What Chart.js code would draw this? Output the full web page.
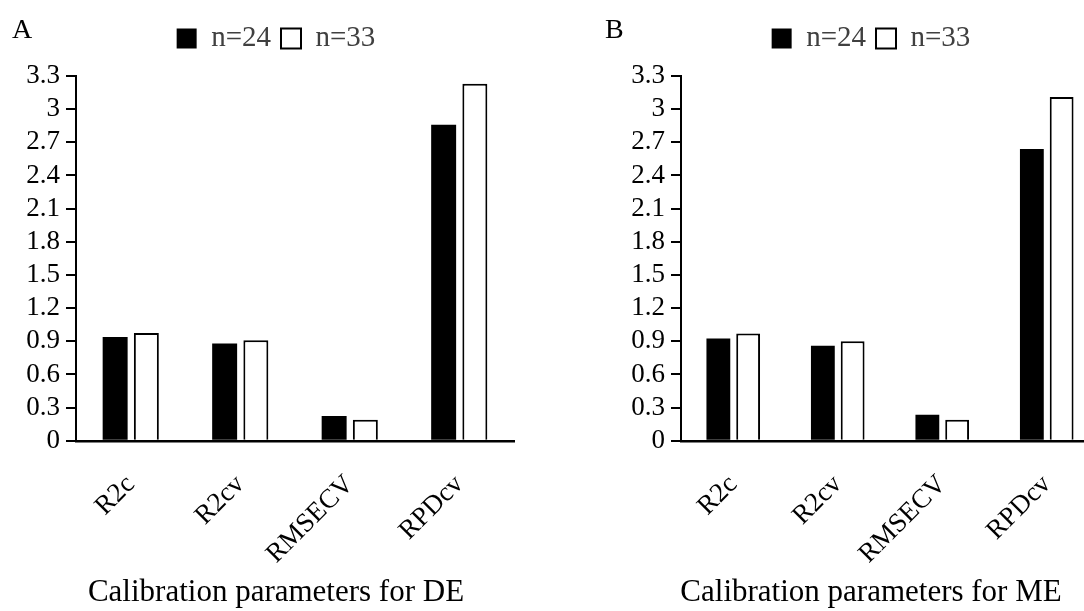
<!DOCTYPE html>
<html><head><meta charset="utf-8">
<script src="https://cdn.jsdelivr.net/npm/chart.js@4.4.1/dist/chart.umd.min.js"></script>
<style>
html,body{margin:0;padding:0;background:#fff;}
body{width:1084px;height:611px;overflow:hidden;position:relative;}
.panel{position:absolute;top:0;height:611px;}
#pa{left:0;width:552px;}
#pb{left:600px;width:542px;}
.tag{position:absolute;top:15px;font-family:"Liberation Serif",serif;font-size:28px;line-height:1;color:#000;}
</style></head><body>
<div class="panel" id="pa"><canvas id="ca"></canvas></div>
<div class="panel" id="pb"><canvas id="cb"></canvas></div>
<div class="tag" style="left:12px">A</div>
<div class="tag" style="left:605px">B</div>
<script>
const categories = ['R2c', 'R2cv', 'RMSECV', 'RPDcv'];
const seriesNames = ['n=24', 'n=33'];
const deN24 = [0.94, 0.88, 0.225, 2.86];
const deN33 = [0.975, 0.91, 0.19, 3.23];
const meN24 = [0.925, 0.86, 0.235, 2.64];
const meN33 = [0.97, 0.90, 0.19, 3.11];
const yTicks = [0, 0.3, 0.6, 0.9, 1.2, 1.5, 1.8, 2.1, 2.4, 2.7, 3, 3.3];
const titles = ['Calibration parameters for DE', 'Calibration parameters for ME'];

const FONT = '"Liberation Serif", "Times New Roman", serif';

function makeChart(id, s1, s2, title, yWidth, rightWidth) {
  return new Chart(document.getElementById(id), {
    type: 'bar',
    data: {
      labels: categories,
      datasets: [
        { label: seriesNames[0], data: s1, backgroundColor: '#000', borderColor: '#000', borderWidth: 0,
          categoryPercentage: 0.57, barPercentage: 0.8 },
        { label: seriesNames[1], data: s2, backgroundColor: '#fff', borderColor: '#000', borderWidth: 2,
          categoryPercentage: 0.57, barPercentage: 0.8 }
      ]
    },
    options: {
      responsive: true,
      maintainAspectRatio: false,
      animation: false,
      layout: { padding: { top: 14, bottom: 0, left: 0, right: 0 } },
      plugins: {
        legend: {
          position: 'top',
          labels: { font: { family: FONT, size: 29 }, color: '#404040', boxWidth: 20, boxHeight: 20, padding: 10 }
        },
        title: {
          display: true, position: 'bottom', text: title,
          font: { family: FONT, size: 31, weight: 'normal' }, color: '#000',
          padding: { top: 0, bottom: 0 }
        },
        tooltip: { enabled: false }
      },
      scales: {
        x: {
          grid: { display: true, drawOnChartArea: false, drawTicks: false },
          border: { display: true, color: '#000', width: 2.5 },
          ticks: { font: { family: FONT, size: 27 }, color: '#000', minRotation: 45, maxRotation: 45, padding: 28 },
          afterFit: (s) => { s.height = 133; }
        },
        xT: {
          type: 'category', position: 'top', labels: categories,
          grid: { display: false }, border: { display: false }, ticks: { display: false },
          afterFit: (s) => { s.height = 13; }
        },
        y: {
          min: 0, max: 3.3,
          afterBuildTicks: (s) => { s.ticks = yTicks.map(v => ({ value: v })); },
          ticks: { font: { family: FONT, size: 27 }, color: '#000', padding: 6, autoSkip: false,
                   callback: (v) => String(+(+v).toFixed(1)) },
          grid: { display: true, drawOnChartArea: false, drawTicks: true, tickLength: 10, color: '#000', lineWidth: 2 },
          border: { display: true, color: '#000', width: 2 },
          afterFit: (s) => { s.width = yWidth; }
        },
        yR: {
          type: 'linear', position: 'right',
          grid: { display: false }, border: { display: false }, ticks: { display: false },
          afterFit: (s) => { s.width = rightWidth; }
        }
      }
    }
  });
}

makeChart('ca', deN24, deN33, titles[0], 76, 38);
makeChart('cb', meN24, meN33, titles[1], 81, 43);
</script>
</body></html>
